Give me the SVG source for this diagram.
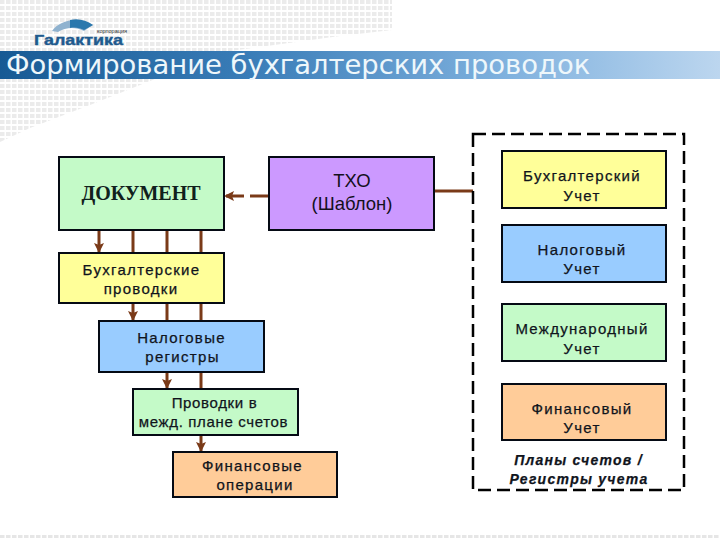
<svg xmlns="http://www.w3.org/2000/svg" width="720" height="540" viewBox="0 0 720 540">
<style>
.box{stroke:#050a14;stroke-width:2}
.t{font-family:"Liberation Sans",Arial,sans-serif;font-size:15px;letter-spacing:1.3px;text-anchor:middle;fill:#10141c;stroke:#10141c;stroke-width:.25}
.n{letter-spacing:.65px}
.i{font-style:italic;font-weight:bold;font-size:14px;letter-spacing:1.25px}
.c{stroke:#7a3a18;stroke-width:3;fill:none}
.ca{stroke:#7a3a18;stroke-width:3;fill:none;marker-end:url(#ah)}
</style>
<defs>
<linearGradient id="band" x1="0" x2="1" y1="0" y2="0"><stop offset="0" stop-color="#175a94"/><stop offset=".35" stop-color="#3a7db8"/><stop offset=".7" stop-color="#7fb1de"/><stop offset="1" stop-color="#bcd6ef"/></linearGradient>
<pattern id="dots" width="6" height="6" patternUnits="userSpaceOnUse"><rect x="0" y="0" width="4.500" height="4" fill="#e6e6e6"/></pattern>
<marker id="ah" markerUnits="userSpaceOnUse" markerWidth="11" markerHeight="11" refX="9" refY="5" orient="auto"><path d="M0 0L10 5L0 10L2 5Z" fill="#7a3a18"/></marker>
</defs>
<rect width="720" height="540" fill="#fff"/>
<path d="M0 0H392V30L340 36L230 51H0Z" fill="url(#dots)" opacity=".8"/>
<path d="M0 79H155L90 105L30 128L0 142Z" fill="url(#dots)" opacity=".8"/>
<rect y="51" width="720" height="28" fill="url(#band)"/>
<text x="6" y="74" font-family="&quot;DejaVu Sans&quot;,Verdana,sans-serif" font-size="27.400" fill="#eef7fb">Формирование бухгалтерских проводок</text>
<g id="logo">
<path d="M52 31C60 20 78 16 93 25L84 31C76 27 66 27 58 32Z" fill="#8fb2cf"/>
<path d="M70 20C78 18 86 20 93 25L84 30C80 28 75 27 70 28Z" fill="#2a78ad"/>
<text x="34" y="45" font-family="&quot;Liberation Sans&quot;,Arial,sans-serif" font-size="14" font-weight="bold" textLength="89" lengthAdjust="spacingAndGlyphs" fill="#1f5a8e" stroke="#1f5a8e" stroke-width=".4">Галактика</text>
<text x="97" y="33" font-family="&quot;Liberation Sans&quot;,Arial,sans-serif" font-size="5.500" fill="#333">корпорация</text>
</g>
<rect y="535" width="720" height="5" fill="url(#dots)"/>
<g id="connectors">
<path class="ca" d="M268 196H225" stroke-dasharray="18 6"/>
<path class="c" d="M434 191H473" stroke-width="2.500"/>
<path class="ca" d="M99 230V252"/><path class="c" d="M133 230V253M167 230V253M201 230V253"/>
<path class="ca" d="M133 303V320"/><path class="c" d="M167 303V321M201 303V321"/>
<path class="ca" d="M167 372V388"/><path class="c" d="M201 372V389"/>
<path class="ca" d="M201 435V451"/>
</g>
<g id="doc"><rect class="box" x="59" y="157" width="165" height="73" fill="#c4fac8"/><text x="141" y="200" font-family="&quot;Liberation Serif&quot;,serif" font-weight="bold" font-size="20" text-anchor="middle" fill="#10201c">ДОКУМЕНТ</text></g>
<g id="txo"><rect class="box" x="269" y="157" width="165" height="73" fill="#cc99ff"/><text x="352" y="187" font-family="&quot;Liberation Sans&quot;,Arial,sans-serif" font-size="18.500" text-anchor="middle" fill="#14101c">ТХО</text><text x="352" y="210" font-family="&quot;Liberation Sans&quot;,Arial,sans-serif" font-size="18.500" text-anchor="middle" fill="#14101c">(Шаблон)</text></g>
<g id="buh"><rect class="box" x="59" y="253" width="165" height="50" fill="#ffff99"/><text class="t" x="141.500" y="275">Бухгалтерские</text><text class="t" x="141" y="294">проводки</text></g>
<g id="nal"><rect class="box" x="99" y="321" width="165" height="51" fill="#99ccff"/><text class="t" x="181.500" y="343">Налоговые</text><text class="t" x="182.500" y="362">регистры</text></g>
<g id="mezh"><rect class="box" x="133" y="389" width="165" height="46" fill="#c4fac8"/><text class="t n" x="214.500" y="408">Проводки в</text><text class="t n" x="213.500" y="427">межд. плане счетов</text></g>
<g id="fin"><rect class="box" x="173" y="452" width="164" height="45" fill="#ffcc99"/><text class="t" x="252.500" y="471">Финансовые</text><text class="t" x="255" y="490">операции</text></g>
<g id="group"><rect x="473" y="134" width="211" height="356" fill="none" stroke="#000" stroke-width="2.500" stroke-dasharray="13 6"/></g>
<g id="r1"><rect class="box" x="502" y="151" width="164" height="57" fill="#ffff99"/><text class="t" x="582" y="181">Бухгалтерский</text><text class="t" x="582" y="201">Учет</text></g>
<g id="r2"><rect class="box" x="502" y="225" width="164" height="57" fill="#99ccff"/><text class="t" x="582" y="255">Налоговый</text><text class="t" x="582" y="274">Учет</text></g>
<g id="r3"><rect class="box" x="502" y="304" width="164" height="57" fill="#c4fac8"/><text class="t" x="582" y="334">Международный</text><text class="t" x="582" y="354">Учет</text></g>
<g id="r4"><rect class="box" x="502" y="384" width="164" height="56" fill="#ffcc99"/><text class="t" x="582" y="414">Финансовый</text><text class="t" x="582" y="433">Учет</text></g>
<g id="cap"><text class="t i" x="578.500" y="465">Планы счетов /</text><text class="t i" x="579" y="484">Регистры учета</text></g>
</svg>
